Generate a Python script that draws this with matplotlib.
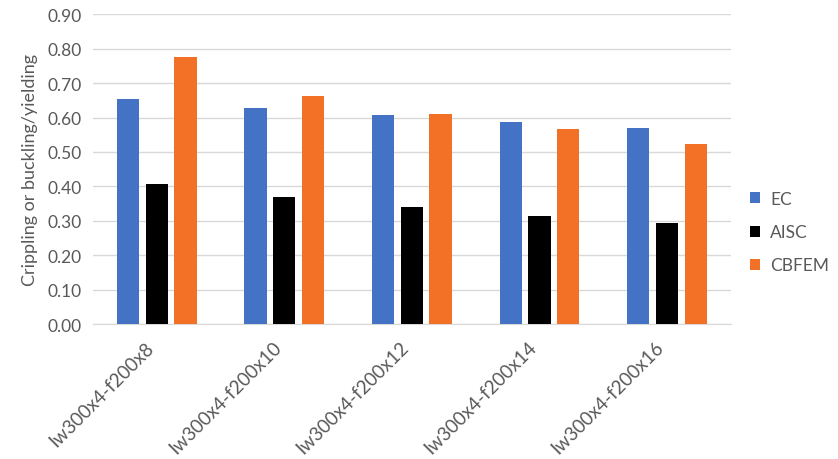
import matplotlib.pyplot as plt
import matplotlib.transforms as mtransforms
import numpy as np

categories = ["Iw300x4-f200x8", "Iw300x4-f200x10", "Iw300x4-f200x12",
              "Iw300x4-f200x14", "Iw300x4-f200x16"]
ec = [0.655, 0.628, 0.607, 0.587, 0.570]
aisc = [0.407, 0.369, 0.340, 0.314, 0.293]
cbfem = [0.776, 0.662, 0.610, 0.566, 0.523]

plt.rcParams['font.family'] = ['Lato', 'DejaVu Sans']
grey = '#595959'

fig = plt.figure(figsize=(8.38, 4.6), dpi=100)
ax = fig.add_axes([0.111, 0.293, 0.761, 0.674])

x = np.arange(len(categories))
w = 0.175
off = 0.225
ax.bar(x - off, ec, w, color='#4472C4', label='EC', zorder=3)
ax.bar(x, aisc, w, color='black', label='AISC', zorder=3)
ax.bar(x + off, cbfem, w, color='#F37126', label='CBFEM', zorder=3)

ax.set_xlim(-0.5, len(categories) - 0.5)
ax.set_ylim(0, 0.9)
ax.set_yticks(np.arange(0, 0.91, 0.1))
ax.set_yticklabels([f"{v:.2f}" for v in np.arange(0, 0.91, 0.1)])
ax.yaxis.grid(True, color='#D9D9D9', linewidth=1, zorder=0)
ax.set_xticks(x)
ax.set_xticklabels(categories, rotation=45, ha='right', fontsize=13.5)
shift = mtransforms.ScaledTranslation(8 / 100, -2 / 100, fig.dpi_scale_trans)
for lbl in ax.get_xticklabels():
    lbl.set_transform(lbl.get_transform() + shift)

for s in ['top', 'right', 'left']:
    ax.spines[s].set_visible(False)
ax.spines['bottom'].set_color('#D9D9D9')
ax.tick_params(axis='both', length=0, colors=grey)
ax.tick_params(axis='y', labelsize=12.5, pad=8)
ax.tick_params(axis='x', pad=10)

ax.set_ylabel("Crippling or buckling/yielding", color=grey, fontsize=13, labelpad=7)

ax.legend(loc='center left', bbox_to_anchor=(1.005, 0.297), frameon=False,
          fontsize=12.5, labelcolor=grey, handlelength=0.6, handleheight=0.6,
          labelspacing=1.0, handletextpad=0.6)

fig.savefig('out.png', dpi=100)
